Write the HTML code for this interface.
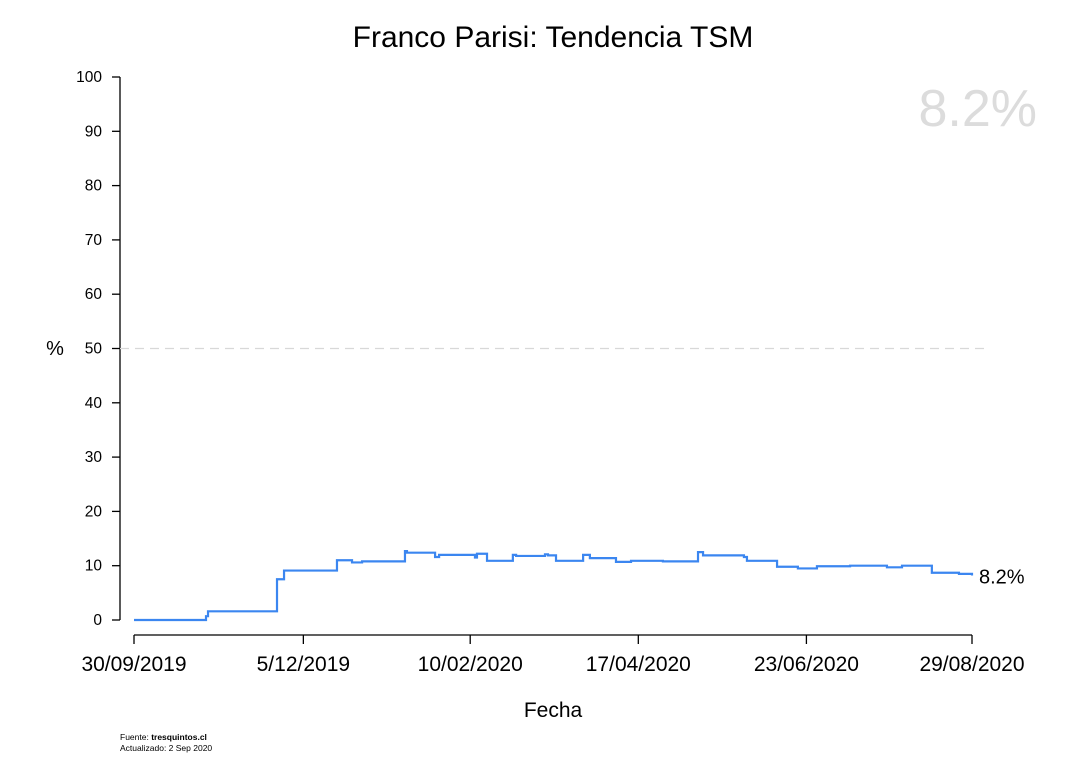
<!DOCTYPE html>
<html><head><meta charset="utf-8"><style>
body{margin:0;background:#fff;}
svg text{font-family:"Liberation Sans",Arial,sans-serif;}
</style></head><body>
<svg id="chart" width="1068" height="776">
<text x="553" y="47" font-size="30" text-anchor="middle">Franco Parisi: Tendencia TSM</text>
<text x="1037" y="126" font-size="52" fill="#dcdcdc" text-anchor="end">8.2%</text>
<text x="55" y="355" font-size="20" text-anchor="middle">%</text>
<text x="553" y="717" font-size="21" text-anchor="middle">Fecha</text>
<text x="120" y="740" font-size="8.5">Fuente: <tspan font-weight="bold">tresquintos.cl</tspan></text>
<text x="120" y="751" font-size="8.5">Actualizado: 2 Sep 2020</text>
<g id="axes"></g>
<g id="series"></g>
</svg>
<script>
const yTicks=[0,10,20,30,40,50,60,70,80,90,100];
const xTickDays=[0,67.5,134,201,268,334];
const xTickLabels=["30/09/2019","5/12/2019","10/02/2020","17/04/2020","23/06/2020","29/08/2020"];
const stepDays=[0,28.7,29.5,57,59.8,80.9,86.9,90.9,108,108.8,120,121.6,135.9,136.7,140.7,151,152.3,163.8,165,168.2,179,181.7,192.1,198.1,210.8,224.8,226.8,243.1,244.3,256.3,264.6,272.2,285.4,300.1,306.1,318,328.8];
const stepValues=[0,0.7,1.6,7.5,9.1,11.0,10.6,10.8,12.7,12.4,11.6,12.0,11.5,12.2,10.9,12.0,11.8,12.1,11.9,10.9,12.0,11.4,10.7,10.9,10.8,12.5,11.9,11.6,10.9,9.8,9.5,9.9,10.0,9.7,10.0,8.7,8.5];
const endDay=334;
const endValue=8.2;
const ns="http://www.w3.org/2000/svg";
const X=d=>134+d*(838/334);
const Y=v=>620-v*5.43;
function mk(tag,attrs,parent){const e=document.createElementNS(ns,tag);for(const k in attrs)e.setAttribute(k,attrs[k]);parent.appendChild(e);return e;}
const axes=document.getElementById('axes');
const series=document.getElementById('series');
let yl=mk('line',{x1:120,x2:120,y1:Y(100),y2:Y(0),stroke:'#000','stroke-width':1.3},axes);


yTicks.forEach(v=>{
 const t=mk('line',{x1:112,x2:120,y1:Y(v),y2:Y(v),stroke:'#000','stroke-width':1.3},axes);
 
 
 const l=mk('text',{x:102,y:Y(v)+5,'font-size':15.5,'text-anchor':'end'},axes);
 l.textContent=v;
 
 
});
let xl=mk('line',{x1:X(0),x2:X(334),y1:635,y2:635,stroke:'#000','stroke-width':1.3},axes);


xTickDays.forEach((d,i)=>{
 const t=mk('line',{x1:X(d),x2:X(d),y1:635,y2:644,stroke:'#000','stroke-width':1.3},axes);
 
 
 const l=mk('text',{x:X(d),y:671,'font-size':21,'text-anchor':'middle'},axes);
 l.textContent=xTickLabels[i];
 
 
});
let ref=mk('line',{x1:120,x2:990,y1:Y(50),y2:Y(50),stroke:'#d8d8d8','stroke-width':1.2,'stroke-dasharray':'9,6'},axes);


let d='M'+X(stepDays[0])+','+Y(stepValues[0]);
for(let i=1;i<stepDays.length;i++){d+=' H'+X(stepDays[i])+' V'+Y(stepValues[i]);}
d+=' H'+X(endDay)+' V'+Y(endValue);
const p=mk('path',{d:d,fill:'none',stroke:'#3b86f0','stroke-width':2.2},series);


const el=mk('text',{x:X(endDay)+7,y:Y(endValue)+8,'font-size':20},series);
el.textContent=endValue.toFixed(1)+'%';


</script>
</body></html>
